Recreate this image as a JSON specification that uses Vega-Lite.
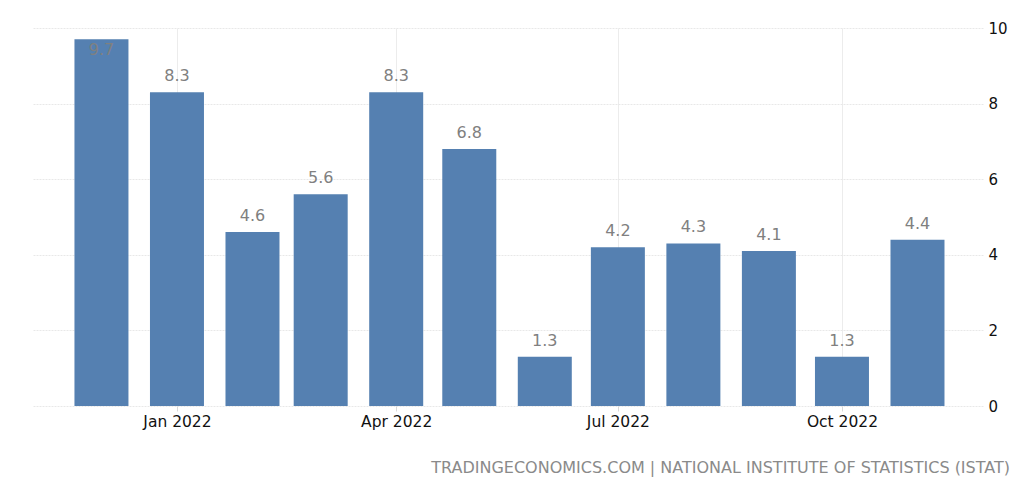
{
  "$schema": "https://vega.github.io/schema/vega-lite/v6.json",
  "width": 950,
  "height": 378,
  "autosize": {"type": "none"},
  "padding": {"left": 33, "top": 28, "right": 41, "bottom": 94},
  "background": "white",
  "data": {
    "values": [
      {"month": "2021-12-01", "value": 9.7},
      {"month": "2022-01-01", "value": 8.3},
      {"month": "2022-02-01", "value": 4.6},
      {"month": "2022-03-01", "value": 5.6},
      {"month": "2022-04-01", "value": 8.3},
      {"month": "2022-05-01", "value": 6.8},
      {"month": "2022-06-01", "value": 1.3},
      {"month": "2022-07-01", "value": 4.2},
      {"month": "2022-08-01", "value": 4.3},
      {"month": "2022-09-01", "value": 4.1},
      {"month": "2022-10-01", "value": 1.3},
      {"month": "2022-11-01", "value": 4.4}
    ]
  },
  "title": {
    "text": "TRADINGECONOMICS.COM | NATIONAL INSTITUTE OF STATISTICS (ISTAT)",
    "orient": "bottom",
    "anchor": "end",
    "frame": "group",
    "offset": 30,
    "dx": 27,
    "font": "DejaVu Sans",
    "fontSize": 16,
    "fontWeight": "normal",
    "color": "#8a8a8a"
  },
  "encoding": {
    "x": {
      "field": "month",
      "type": "temporal",
      "title": null,
      "scale": {
        "type": "utc",
        "nice": false,
        "padding": 0,
        "domain": [
          {"year": 2021, "month": 11, "date": 2, "hours": 21, "minutes": 30, "utc": true},
          {"year": 2022, "month": 11, "date": 27, "hours": 21, "minutes": 30, "utc": true}
        ]
      },
      "axis": {
        "values": [
          {"year": 2022, "month": 1, "date": 1, "utc": true},
          {"year": 2022, "month": 4, "date": 1, "utc": true},
          {"year": 2022, "month": 7, "date": 1, "utc": true},
          {"year": 2022, "month": 10, "date": 1, "utc": true}
        ],
        "labelExpr": "utcFormat(datum.value, '%b %Y')",
        "domain": false,
        "ticks": true,
        "tickSize": 5,
        "tickColor": "#d9d9d9",
        "labelPadding": 3,
        "grid": true,
        "gridColor": "#ececec",
        "labelFont": "DejaVu Sans",
        "labelFontSize": 15.5,
        "labelColor": "#111111"
      }
    },
    "y": {
      "field": "value",
      "type": "quantitative",
      "title": null,
      "scale": {"domain": [0, 10], "nice": false},
      "axis": {
        "orient": "right",
        "values": [0, 2, 4, 6, 8, 10],
        "domain": false,
        "ticks": false,
        "labelPadding": 5,
        "grid": true,
        "gridColor": "#e8e8e8",
        "gridDash": [2, 1],
        "labelFont": "DejaVu Sans",
        "labelFontSize": 15,
        "labelColor": "#111111"
      }
    }
  },
  "layer": [
    {
      "mark": {"type": "bar", "size": 54, "color": "#5580b1"}
    },
    {
      "transform": [{"filter": "datum.value < 9.5"}],
      "mark": {
        "type": "text",
        "baseline": "alphabetic",
        "dy": -11,
        "font": "DejaVu Sans",
        "fontSize": 16,
        "color": "#808080"
      },
      "encoding": {"text": {"field": "value", "type": "quantitative", "format": ".1f"}}
    },
    {
      "transform": [{"filter": "datum.value >= 9.5"}],
      "mark": {
        "type": "text",
        "baseline": "top",
        "dy": 3,
        "font": "DejaVu Sans",
        "fontSize": 16,
        "color": "#808080"
      },
      "encoding": {"text": {"field": "value", "type": "quantitative", "format": ".1f"}}
    }
  ],
  "config": {"view": {"stroke": null}}
}
